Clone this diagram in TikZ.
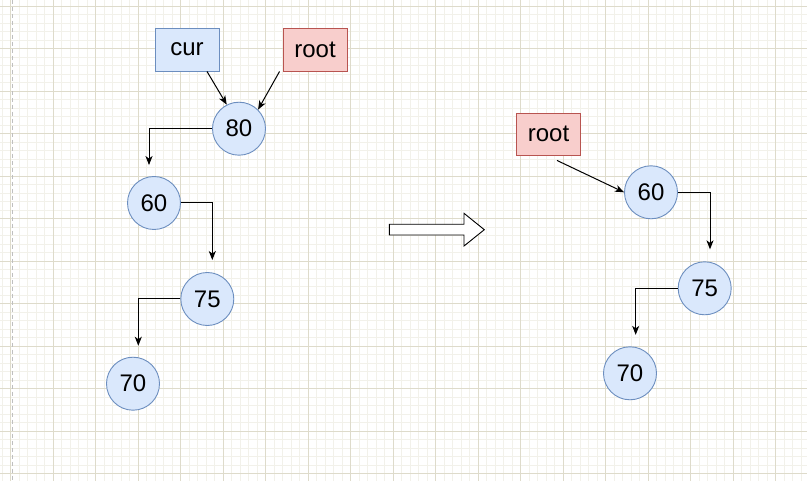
\documentclass[tikz,border=0pt]{standalone}
\usepackage{fontspec}
\setmainfont{Liberation Sans}
\usetikzlibrary{arrows.meta,calc}
\definecolor{gridmajor}{RGB}{222,219,203}
\definecolor{gridminor}{RGB}{242,241,234}
\definecolor{bluefill}{HTML}{DAE8FC}
\definecolor{bluedraw}{HTML}{6C8EBF}
\definecolor{redfill}{HTML}{F8CECC}
\definecolor{reddraw}{HTML}{B85450}
\tikzset{
  box/.style={draw, line width=0.9pt, minimum width=64pt, minimum height=43pt, inner sep=0pt, font=\fontsize{24}{28}\selectfont},
  bluebox/.style={box, fill=bluefill, draw=bluedraw},
  redbox/.style={box, fill=redfill, draw=reddraw},
  treenode/.style={circle, draw=bluedraw, fill=bluefill, line width=0.9pt, minimum size=53pt, inner sep=0pt, font=\fontsize{24}{28}\selectfont},
  conn/.style={draw=black, line width=1pt, -{Stealth[length=9pt,width=7pt,inset=2.5pt]}},
}
\begin{document}
\begin{tikzpicture}[x=1pt,y=-1pt]
\useasboundingbox (0,0) rectangle (807,481);
\fill[white] (0,0) rectangle (807,481);
\begin{scope}
\clip (0,0) rectangle (807,481);
\foreach \i in {-2,...,96} {
  \draw[gridminor, line width=0.8pt] (10.8+8.5*\i,0) -- (10.8+8.5*\i,481);
}
\foreach \j in {-1,...,57} {
  \draw[gridminor, line width=0.8pt] (0,6+8.5*\j) -- (807,6+8.5*\j);
}
\foreach \i in {-1,...,19} {
  \draw[gridmajor, line width=0.9pt] (10.8+42.5*\i,0) -- (10.8+42.5*\i,481);
}
\foreach \j in {0,...,11} {
  \draw[gridmajor, line width=0.9pt] (0,6+42.5*\j) -- (807,6+42.5*\j);
}
\draw[gray!50, line width=1pt, dash pattern=on 4pt off 3pt] (12,0) -- (12,481);
\end{scope}

% left tree
\node[bluebox] (cur) at (187,49.5) {cur};
\node[redbox] (root) at (315,49.5) {root};
\node[treenode] (n80) at (239,128.7) {80};
\node[treenode] (n60) at (154,203) {60};
\node[treenode] (n75) at (207.3,299) {75};
\node[treenode] (n70) at (133,383.7) {70};

\draw[conn] ([xshift=20pt]cur.south) -- (n80.117);
\draw[conn] ([xshift=-3pt]root.south west) -- (n80.45);
\draw[conn] (n80.west) -| ([xshift=-5pt,yshift=11pt]n60.north);
\draw[conn] (n60.east) -| ([xshift=5pt,yshift=12pt]n75.north);
\draw[conn] (n75.west) -| ([xshift=5.3pt,yshift=11pt]n70.north);

% big arrow
\draw[black, line width=0.9pt, fill=white] (389.3,224.3) -- (464,224.3) -- (464,213.3) -- (484.3,229.7) -- (464,246) -- (464,235) -- (389.3,235) -- cycle;

% right tree
\node[redbox, minimum height=42pt] (root2) at (548.5,134) {root};
\node[treenode] (m60) at (651,192.3) {60};
\node[treenode] (m75) at (704.7,288.3) {75};
\node[treenode] (m70) at (630,373.3) {70};

\draw[conn] ([xshift=8.5pt,yshift=-5pt]root2.south) -- (m60.west);
\draw[conn] (m60.east) -| ([xshift=5.3pt,yshift=12pt]m75.north);
\draw[conn] (m75.west) -| ([xshift=5.7pt,yshift=11.5pt]m70.north);
\end{tikzpicture}
\end{document}
